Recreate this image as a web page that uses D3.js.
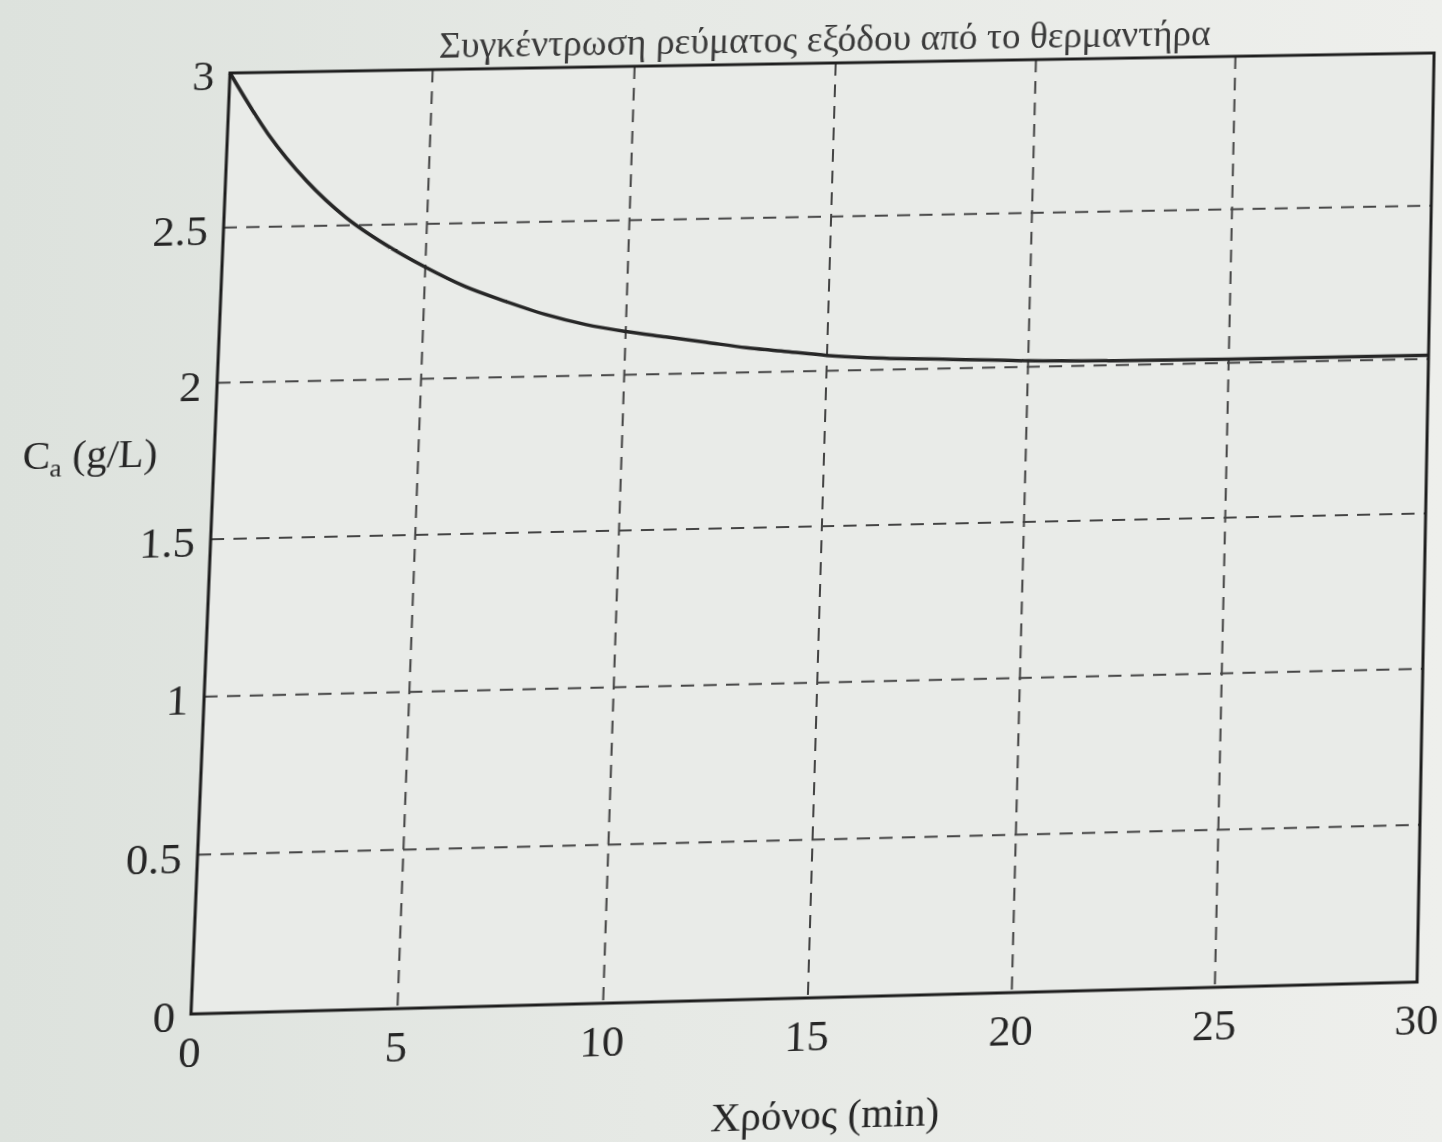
<!DOCTYPE html>
<html>
<head>
<meta charset="utf-8">
<script src="https://cdn.jsdelivr.net/npm/d3@7"></script>
<style>
  body { margin: 0; width: 1442px; height: 1142px; overflow: hidden;
         background: linear-gradient(90deg, #dde2dd 0%, #e6e9e5 45%, #eeefec 100%); }
  #chart svg { position: absolute; left: 0; top: 0; transform-origin: 0 0; }
  text { font-family: "Liberation Serif", "DejaVu Serif", serif; fill: #262626; }
</style>
</head>
<body>
<div id="chart"></div>
<script>
// data
var timeMin = [0, 1, 2, 3, 4, 5, 6, 7, 8, 9, 10, 11, 12, 13, 14, 15, 16, 18, 20, 22, 25, 28, 30];
var concA   = [3.0, 2.80, 2.645, 2.525, 2.435, 2.36, 2.295, 2.245, 2.20, 2.165, 2.14, 2.12, 2.10, 2.08,
               2.065, 2.05, 2.04, 2.03, 2.02, 2.015, 2.012, 2.012, 2.012];
var xTicks = [0, 5, 10, 15, 20, 25, 30];
var yTicks = [0, 0.5, 1, 1.5, 2, 2.5, 3];

var titleText = "Συγκέντρωση ρεύματος εξόδου από το θερμαντήρα";
var xLabel = "Χρόνος (min)";

var margin = {top: 73, left: 230},
    w = 1190,
    h = 940;

// the page was photographed at an angle: corners of the plot box in the photo
var quad = [[230, 73], [1434, 53], [1417, 982], [191, 1014]];

var svg = d3.select("#chart")
            .append("svg")
            .attr("width", 1442)
            .attr("height", 1220)
            .style("overflow", "visible");

var x = d3.scaleLinear().domain([0, 30]).range([0, w]);
var y = d3.scaleLinear().domain([0, 3]).range([h, 0]);

var g = svg.append("g")
           .attr("transform", "translate(" + margin.left + "," + margin.top + ")");

g.append("rect")
    .attr("width", w)
    .attr("height", h)
    .attr("fill", "#e9ebe8");

// dashed grid
g.selectAll("line.vgrid")
    .data(xTicks.slice(1, -1))
    .enter()
    .append("line")
    .attr("class", "vgrid")
    .attr("x1", function(d) { return x(d); })
    .attr("x2", function(d) { return x(d); })
    .attr("y1", 0)
    .attr("y2", h)
    .attr("stroke", "#444")
    .attr("stroke-width", 2)
    .attr("stroke-dasharray", "13,9");

g.selectAll("line.hgrid")
    .data(yTicks.slice(1, -1))
    .enter()
    .append("line")
    .attr("class", "hgrid")
    .attr("x1", 0)
    .attr("x2", w)
    .attr("y1", function(d) { return y(d); })
    .attr("y2", function(d) { return y(d); })
    .attr("stroke", "#444")
    .attr("stroke-width", 2)
    .attr("stroke-dasharray", "13,9");

// curve
var line = d3.line()
             .x(function(d, i) { return x(timeMin[i]); })
             .y(function(d) { return y(d); })
             .curve(d3.curveMonotoneX);

g.append("path")
    .datum(concA)
    .attr("d", line)
    .attr("fill", "none")
    .attr("stroke", "#262626")
    .attr("stroke-width", 3.5);

// box
g.append("rect")
    .attr("width", w)
    .attr("height", h)
    .attr("fill", "none")
    .attr("stroke", "#1e1e1e")
    .attr("stroke-width", 3);

// tick labels
g.selectAll("text.xt")
    .data(xTicks)
    .enter()
    .append("text")
    .attr("class", "xt")
    .attr("x", function(d) { return x(d); })
    .attr("y", h + 52)
    .attr("text-anchor", "middle")
    .style("font-size", "43px")
    .text(function(d) { return d; });

g.selectAll("text.yt")
    .data(yTicks)
    .enter()
    .append("text")
    .attr("class", "yt")
    .attr("x", -15)
    .attr("y", function(d) { return y(d); })
    .attr("dy", "0.4em")
    .attr("text-anchor", "end")
    .style("font-size", "43px")
    .text(function(d) { return d; });

// title and axis labels
g.append("text")
    .attr("x", w / 2 - 10)
    .attr("y", -12)
    .attr("text-anchor", "middle")
    .style("font-size", "37px")
    .style("fill", "#3a3a3a")
    .text(titleText);

g.append("text")
    .attr("x", w / 2 + 20)
    .attr("y", h + 129)
    .attr("text-anchor", "middle")
    .style("font-size", "40px")
    .text(xLabel);

var yl = g.append("text")
    .attr("x", -55)
    .attr("y", 396)
    .attr("text-anchor", "end")
    .style("font-size", "40px");
yl.append("tspan").text("C");
yl.append("tspan").attr("dy", 8).style("font-size", "26px").text("a");
yl.append("tspan").attr("dy", -8).text(" (g/L)");

// map the flat plot box onto the photographed quad (projective transform)
function homography(px, py, pw, ph, q) {
    var x0 = q[0][0], y0 = q[0][1], x1 = q[1][0], y1 = q[1][1],
        x2 = q[2][0], y2 = q[2][1], x3 = q[3][0], y3 = q[3][1];
    var dx1 = x1 - x2, dx2 = x3 - x2, dx3 = x0 - x1 + x2 - x3,
        dy1 = y1 - y2, dy2 = y3 - y2, dy3 = y0 - y1 + y2 - y3;
    var den = dx1 * dy2 - dx2 * dy1;
    var gg = (dx3 * dy2 - dx2 * dy3) / den,
        hh = (dx1 * dy3 - dx3 * dy1) / den;
    var a = x1 - x0 + gg * x1, b = x3 - x0 + hh * x3, c = x0,
        d = y1 - y0 + gg * y1, e = y3 - y0 + hh * y3, f = y0;
    var m11 = a / pw, m12 = b / ph, m13 = c - a * px / pw - b * py / ph,
        m21 = d / pw, m22 = e / ph, m23 = f - d * px / pw - e * py / ph,
        m31 = gg / pw, m32 = hh / ph, m33 = 1 - gg * px / pw - hh * py / ph;
    return "matrix3d(" + [m11, m21, 0, m31, m12, m22, 0, m32, 0, 0, 1, 0, m13, m23, 0, m33].join(",") + ")";
}

svg.style("transform", homography(margin.left, margin.top, w, h, quad));
</script>
</body>
</html>
